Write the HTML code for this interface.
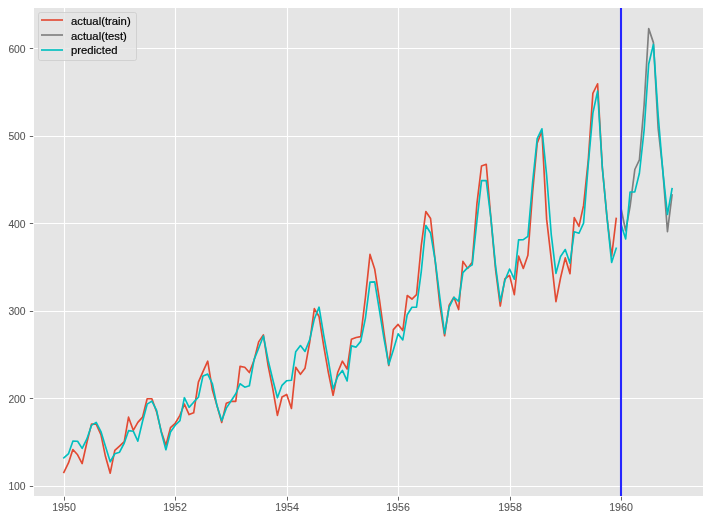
<!DOCTYPE html>
<html><head><meta charset="utf-8"><style>
html,body{margin:0;padding:0;background:#fff;width:710px;height:520px;overflow:hidden}
svg{display:block;will-change:transform}
text{font-family:"Liberation Sans",sans-serif}
</style></head><body>
<svg width="710" height="520" viewBox="0 0 710 520">
<rect x="0" y="0" width="710" height="520" fill="#ffffff"/>
<rect x="34" y="8" width="669" height="488" fill="#E5E5E5"/>
<g stroke="#ffffff" stroke-width="1.1">
<line x1="64.5" y1="8" x2="64.5" y2="496" />
<line x1="175.5" y1="8" x2="175.5" y2="496" />
<line x1="287.5" y1="8" x2="287.5" y2="496" />
<line x1="398.5" y1="8" x2="398.5" y2="496" />
<line x1="510.5" y1="8" x2="510.5" y2="496" />
<line x1="621.5" y1="8" x2="621.5" y2="496" />
<line x1="34" y1="486.5" x2="703" y2="486.5" />
<line x1="34" y1="398.5" x2="703" y2="398.5" />
<line x1="34" y1="311.5" x2="703" y2="311.5" />
<line x1="34" y1="223.5" x2="703" y2="223.5" />
<line x1="34" y1="136.5" x2="703" y2="136.5" />
<line x1="34" y1="48.5" x2="703" y2="48.5" />
</g>
<g stroke="#555555" stroke-width="0.9">
<line x1="64.5" y1="496.8" x2="64.5" y2="500.6" />
<line x1="175.5" y1="496.8" x2="175.5" y2="500.6" />
<line x1="287.5" y1="496.8" x2="287.5" y2="500.6" />
<line x1="398.5" y1="496.8" x2="398.5" y2="500.6" />
<line x1="510.5" y1="496.8" x2="510.5" y2="500.6" />
<line x1="621.5" y1="496.8" x2="621.5" y2="500.6" />
<line x1="29.8" y1="486.5" x2="33.2" y2="486.5" />
<line x1="29.8" y1="398.5" x2="33.2" y2="398.5" />
<line x1="29.8" y1="311.5" x2="33.2" y2="311.5" />
<line x1="29.8" y1="223.5" x2="33.2" y2="223.5" />
<line x1="29.8" y1="136.5" x2="33.2" y2="136.5" />
<line x1="29.8" y1="48.5" x2="33.2" y2="48.5" />
</g>
<g fill="#555555" stroke="#555555" stroke-width="0.08" font-size="11">
<text transform="translate(64.0,511.0) scale(0.97,1)" text-anchor="middle">1950</text>
<text transform="translate(175.0,511.0) scale(0.97,1)" text-anchor="middle">1952</text>
<text transform="translate(287.0,511.0) scale(0.97,1)" text-anchor="middle">1954</text>
<text transform="translate(398.0,511.0) scale(0.97,1)" text-anchor="middle">1956</text>
<text transform="translate(510.0,511.0) scale(0.97,1)" text-anchor="middle">1958</text>
<text transform="translate(621.0,511.0) scale(0.97,1)" text-anchor="middle">1960</text>
<text transform="translate(25.6,490.1) scale(0.94,1)" text-anchor="end">100</text>
<text transform="translate(25.6,403.1) scale(0.94,1)" text-anchor="end">200</text>
<text transform="translate(25.6,315.1) scale(0.94,1)" text-anchor="end">300</text>
<text transform="translate(25.6,228.0) scale(0.94,1)" text-anchor="end">400</text>
<text transform="translate(25.6,140.0) scale(0.94,1)" text-anchor="end">500</text>
<text transform="translate(25.6,53.1) scale(0.94,1)" text-anchor="end">600</text>
</g>
<g fill="none" stroke-width="1.65" stroke-linejoin="round" stroke-linecap="square">
<polyline stroke="#E24A33" points="63.86,472.30 68.59,462.67 72.86,449.55 77.59,454.80 82.16,463.55 86.89,442.54 91.47,424.17 96.20,424.17 100.93,434.67 105.50,456.55 110.23,473.17 114.81,450.42 119.54,446.04 124.27,441.67 128.54,417.17 133.27,430.29 137.84,422.42 142.57,417.17 147.15,398.79 151.88,398.79 156.60,411.92 161.18,431.17 165.91,445.17 170.49,427.67 175.21,423.29 179.94,415.42 184.37,404.04 189.10,414.54 193.67,412.79 198.40,382.16 202.98,371.66 207.71,361.16 212.43,390.04 217.01,405.79 221.74,422.42 226.32,403.17 231.04,401.42 235.77,401.42 240.04,366.41 244.77,367.29 249.35,372.54 254.08,360.29 258.65,341.91 263.38,334.91 268.11,365.54 272.69,388.29 277.42,415.42 281.99,397.04 286.72,394.41 291.45,408.42 295.72,367.29 300.45,374.29 305.03,368.16 309.76,341.91 314.33,308.66 319.06,316.53 323.79,346.28 328.37,372.54 333.09,395.29 337.67,372.54 342.40,361.16 347.13,369.04 351.40,339.28 356.13,337.53 360.70,336.66 365.43,297.28 370.01,254.40 374.74,269.28 379.47,299.91 384.04,333.16 388.77,365.54 393.35,329.66 398.08,324.41 402.81,330.53 407.23,295.53 411.96,299.03 416.53,294.65 421.26,245.65 425.84,211.52 430.57,218.52 435.30,262.28 439.87,305.16 444.60,335.78 449.18,305.16 453.91,297.28 458.64,309.53 462.91,261.40 467.64,268.40 472.21,262.28 476.94,203.65 481.52,166.02 486.25,164.27 490.97,219.40 495.55,269.28 500.28,306.03 504.86,278.90 509.58,275.40 514.31,294.65 518.58,256.15 523.31,268.40 527.89,255.28 532.62,192.27 537.19,143.26 541.92,131.01 546.65,219.40 551.23,258.78 555.96,301.66 560.53,278.03 565.26,257.90 569.99,273.65 574.26,217.65 578.99,226.40 583.57,205.40 588.30,159.89 592.87,93.38 597.60,83.76 602.33,167.77 606.91,216.77 611.63,256.15 616.21,218.52"/>
<polyline stroke="#7f7f7f" points="620.94,208.02 625.67,230.77 630.09,206.27 634.82,169.52 639.40,159.89 644.13,104.76 648.70,28.63 653.43,42.63 658.16,128.39 662.74,169.52 667.46,231.65 672.04,194.89"/>
<polyline stroke="#00bfbf" points="63.86,457.78 68.59,453.58 72.86,441.15 77.59,441.27 82.16,448.33 86.89,438.98 91.47,425.42 96.20,422.34 100.93,431.61 105.50,446.51 110.23,461.76 114.81,453.73 119.54,452.24 124.27,443.00 128.54,430.68 133.27,431.21 137.84,441.14 142.57,421.27 147.15,404.17 151.88,401.09 156.60,410.36 161.18,431.88 165.91,449.78 170.49,432.04 175.21,425.24 179.94,420.65 184.37,397.70 189.10,407.38 193.67,402.18 198.40,397.26 202.98,375.90 207.71,374.14 212.43,383.97 217.01,405.81 221.74,420.81 226.32,408.14 231.04,401.05 235.77,393.81 240.04,383.76 244.77,387.17 249.35,385.77 254.08,359.61 258.65,348.28 263.38,335.93 268.11,360.26 272.69,379.30 277.42,397.79 281.99,385.33 286.72,380.71 291.45,380.27 295.72,351.71 300.45,345.59 305.03,351.40 309.76,339.56 314.33,318.94 319.06,307.18 323.79,335.55 328.37,360.62 333.09,388.97 337.67,376.55 342.40,370.42 347.13,380.88 351.40,345.89 356.13,347.08 360.70,341.38 365.43,318.06 370.01,282.10 374.74,281.87 379.47,310.63 384.04,338.94 388.77,364.60 393.35,349.94 398.08,333.88 402.81,339.96 407.23,314.71 411.96,307.30 416.53,307.12 421.26,271.62 425.84,225.55 430.57,232.97 435.30,261.18 439.87,297.87 444.60,333.64 449.18,307.09 453.91,297.33 458.64,301.42 462.91,272.56 467.64,267.59 472.21,264.90 476.94,220.61 481.52,180.65 486.25,180.53 490.97,218.87 495.55,265.96 500.28,301.36 504.86,280.48 509.58,268.98 514.31,279.21 518.58,239.94 523.31,239.67 527.89,236.31 532.62,182.35 537.19,138.57 541.92,128.82 546.65,175.44 551.23,234.29 555.96,273.33 560.53,256.56 565.26,249.52 569.99,263.14 574.26,231.78 578.99,233.22 583.57,223.10 588.30,163.95 592.87,113.06 597.60,91.10 602.33,167.52 606.91,216.37 611.63,262.43 616.21,248.17"/>
<polyline stroke="#00bfbf" points="620.94,224.09 625.67,238.94 630.09,191.97 634.82,191.83 639.40,173.27 644.13,129.98 648.70,64.01 653.43,44.46 658.16,115.36 662.74,170.50 667.46,214.50 672.04,188.65"/>
</g>
<line x1="621" y1="8" x2="621" y2="496" stroke="#2626ff" stroke-width="2.1"/>
<rect x="38.5" y="12.5" width="98" height="48" rx="2" ry="2" fill="rgba(229,229,229,0.8)" stroke="rgba(204,204,204,0.8)" stroke-width="1"/>
<g stroke-width="1.65">
<line x1="41" y1="20.0" x2="63" y2="20.0" stroke="#E24A33"/>
<line x1="41" y1="35.0" x2="63" y2="35.0" stroke="#7f7f7f"/>
<line x1="41" y1="50.0" x2="63" y2="50.0" stroke="#00bfbf"/>
</g>
<g fill="#000000" stroke="#000000" stroke-width="0.2" font-size="11.3">
<text x="71.0" y="25.0">actual(train)</text>
<text x="71.0" y="39.8">actual(test)</text>
<text x="71.0" y="53.9">predicted</text>
</g>
</svg>
</body></html>
